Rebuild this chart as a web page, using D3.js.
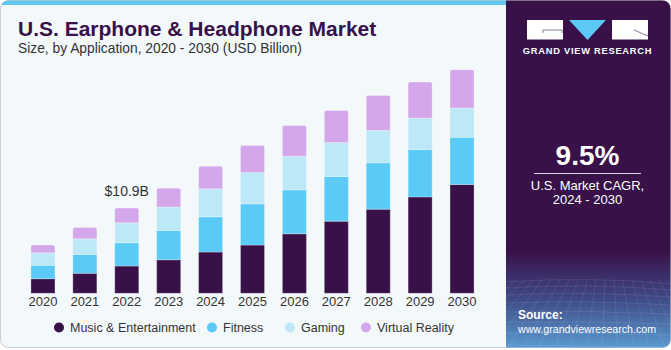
<!doctype html>
<html>

<head>
    <meta charset="utf-8">
    <title>US Earphone & Headphone Market</title>
    <style>
        body {
            margin: 0;
            background: #fff;
        }

        svg {
            display: block;
            font-family: "Liberation Sans", Arial, sans-serif;
        }

        .axis--x path,
        .axis--x line {
            display: none;
        }
    </style>
    <script src="https://cdn.jsdelivr.net/npm/d3@7"></script>
</head>

<body>
    <svg width="671" height="350"></svg>
    <script>
        // values in USD billion
        var years = ["2020", "2021", "2022", "2023", "2024", "2025", "2026", "2027", "2028", "2029", "2030"];
        var music = [1.87, 2.56, 3.50, 4.30, 5.29, 6.18, 7.63, 9.25, 10.79, 12.36, 13.95];
        var fitness = [1.72, 2.43, 2.98, 3.76, 4.52, 5.29, 5.63, 5.72, 5.93, 6.07, 6.05];
        var gaming = [1.61, 2.01, 2.56, 3.02, 3.58, 4.02, 4.31, 4.35, 4.15, 4.04, 3.75];
        var vr = [0.99, 1.45, 1.88, 2.39, 2.91, 3.46, 3.93, 4.13, 4.48, 4.61, 4.92];
        var seriesNames = ["Music & Entertainment", "Fitness", "Gaming", "Virtual Reality"];
        var seriesColors = ["#371147", "#5bcaf6", "#bde8f8", "#d4a7ea"];
        var callout = { year: "2022", label: "$10.9B" };

        var svg = d3.select("svg"),
            W = +svg.attr("width"),
            H = +svg.attr("height");

        var defs = svg.append("defs");

        var grad = defs.append("linearGradient")
            .attr("id", "panelGrad")
            .attr("x1", 0).attr("y1", 0).attr("x2", 0).attr("y2", 1);
        grad.append("stop").attr("offset", "0.72").attr("stop-color", "#371147");
        grad.append("stop").attr("offset", "0.86").attr("stop-color", "#3f4a87");
        grad.append("stop").attr("offset", "1").attr("stop-color", "#5a9ad0");

        defs.append("clipPath").attr("id", "cardClip")
            .append("rect")
            .attr("x", 0.5).attr("y", 0.5)
            .attr("width", W - 1).attr("height", 347)
            .attr("rx", 8);

        // card
        svg.append("rect")
            .attr("x", 0.5).attr("y", 0.5)
            .attr("width", W - 1).attr("height", 347)
            .attr("rx", 8)
            .attr("fill", "#f3f8fb")
            .attr("stroke", "#c9ced2");

        var clipped = svg.append("g").attr("clip-path", "url(#cardClip)");

        clipped.append("rect")
            .attr("x", 0).attr("y", 0)
            .attr("width", 506).attr("height", 5)
            .attr("fill", "#62c6ef");

        // right panel
        clipped.append("rect")
            .attr("x", 506).attr("y", 0)
            .attr("width", W - 506).attr("height", 348)
            .attr("fill", "url(#panelGrad)");

        // faint grid in the bottom of the panel
        var grid = clipped.append("g")
            .attr("stroke", "#ffffff")
            .attr("stroke-opacity", 0.13)
            .attr("stroke-width", 0.7)
            .attr("fill", "none");
        var hy = [282, 288, 295, 303, 312, 322, 333, 345];
        hy.forEach(function (y, i) {
            grid.append("path").attr("d", "M506," + y + " Q588," + (y - 6 + i) + " 671," + (y + 2));
        });
        d3.range(-10, 21).forEach(function (i) {
            var xt = 506 + i * 9;
            var xb = 506 + i * 16 - 80;
            grid.append("line")
                .attr("x1", xt).attr("y1", 280)
                .attr("x2", xb).attr("y2", 350);
        });

        // logo
        var logo = svg.append("g");
        logo.append("rect").attr("x", 527).attr("y", 20).attr("width", 36).attr("height", 19.5).attr("fill", "#fff");
        logo.append("path").attr("d", "M543,33 L543,30 L562,30 L562,33").attr("stroke", "#8a7a9a").attr("stroke-width", 1).attr("fill", "none");
        logo.append("path").attr("d", "M569,20 L606,20 L587.5,40 Z").attr("fill", "#5bc8f5");
        logo.append("rect").attr("x", 612).attr("y", 20).attr("width", 36).attr("height", 19.5).attr("fill", "#fff");
        logo.append("path").attr("d", "M634,30 L648,36").attr("stroke", "#8a7a9a").attr("stroke-width", 1);
        logo.append("text")
            .attr("x", 587.5).attr("y", 53.5)
            .attr("text-anchor", "middle")
            .attr("fill", "#fff")
            .attr("font-size", 9.3)
            .attr("font-weight", "bold")
            .attr("letter-spacing", 0.75)
            .text("GRAND VIEW RESEARCH");

        // CAGR block
        svg.append("text")
            .attr("x", 587.5).attr("y", 165)
            .attr("text-anchor", "middle")
            .attr("fill", "#fff")
            .attr("font-size", 28)
            .attr("font-weight", "bold")
            .text("9.5%");
        svg.append("line")
            .attr("x1", 534).attr("x2", 641)
            .attr("y1", 173.5).attr("y2", 173.5)
            .attr("stroke", "#d8d0de").attr("stroke-width", 1);
        svg.append("text")
            .attr("x", 587.5).attr("y", 190)
            .attr("text-anchor", "middle")
            .attr("fill", "#fff")
            .attr("font-size", 13)
            .text("U.S. Market CAGR,");
        svg.append("text")
            .attr("x", 587.5).attr("y", 204)
            .attr("text-anchor", "middle")
            .attr("fill", "#fff")
            .attr("font-size", 13)
            .text("2024 - 2030");

        svg.append("text")
            .attr("x", 518).attr("y", 319)
            .attr("fill", "#fff")
            .attr("font-size", 12)
            .attr("font-weight", "bold")
            .text("Source:");
        svg.append("text")
            .attr("x", 518).attr("y", 333)
            .attr("fill", "#fff")
            .attr("font-size", 11.5)
            .attr("textLength", 138)
            .attr("lengthAdjust", "spacingAndGlyphs")
            .text("www.grandviewresearch.com");

        // titles
        svg.append("text")
            .attr("x", 18).attr("y", 36)
            .attr("fill", "#371147")
            .attr("font-size", 21)
            .attr("font-weight", "bold")
            .text("U.S. Earphone & Headphone Market");
        svg.append("text")
            .attr("x", 18).attr("y", 53)
            .attr("fill", "#333")
            .attr("font-size", 13.8)
            .text("Size, by Application, 2020 - 2030 (USD Billion)");

        // chart
        var x = d3.scaleBand().domain(years).range([22, 483]).paddingInner(0.427).paddingOuter(0.2135),
            y = d3.scaleLinear().domain([0, 30]).range([293.3, 59.3]);

        var table = years.map(function (yr, i) {
            return { year: yr, music: music[i], fitness: fitness[i], gaming: gaming[i], vr: vr[i] };
        });
        var keys = ["music", "fitness", "gaming", "vr"];
        var stacked = d3.stack().keys(keys)(table);

        var g = svg.append("g");

        stacked.forEach(function (layer, li) {
            var isTop = li === keys.length - 1;
            g.append("g")
                .attr("fill", seriesColors[li])
                .selectAll("path")
                .data(layer)
                .enter().append("path")
                .attr("stroke", "#ffffff")
                .attr("stroke-opacity", 0.45)
                .attr("stroke-width", 0.6)
                .attr("d", function (d) {
                    var x0 = x(d.data.year),
                        x1 = x0 + x.bandwidth(),
                        y0 = y(d[0]),
                        y1 = y(d[1]),
                        r = isTop ? 2 : 0;
                    return "M" + x0 + "," + y0 +
                        "L" + x0 + "," + (y1 + r) +
                        "Q" + x0 + "," + y1 + " " + (x0 + r) + "," + y1 +
                        "L" + (x1 - r) + "," + y1 +
                        "Q" + x1 + "," + y1 + " " + x1 + "," + (y1 + r) +
                        "L" + x1 + "," + y0 + "Z";
                });
        });

        var ci = years.indexOf(callout.year);
        g.append("text")
            .attr("x", x(callout.year) + x.bandwidth() / 2)
            .attr("y", y(music[ci] + fitness[ci] + gaming[ci] + vr[ci]) - 12)
            .attr("text-anchor", "middle")
            .attr("fill", "#333")
            .attr("font-size", 14)
            .text(callout.label);

        g.append("g")
            .attr("class", "axis axis--x")
            .attr("transform", "translate(0,293)")
            .call(d3.axisBottom(x).tickSize(0).tickPadding(4))
            .call(function (a) {
                a.selectAll("text")
                    .attr("font-size", 13)
                    .attr("font-family", "'Liberation Sans', Arial, sans-serif")
                    .attr("fill", "#333");
            });

        // legend
        var legendX = [59, 212, 290, 366];
        var legend = svg.append("g")
            .selectAll("g")
            .data(seriesNames)
            .enter().append("g")
            .attr("transform", function (d, i) {
                return "translate(" + legendX[i] + ",327.5)";
            });
        legend.append("circle")
            .attr("r", 5)
            .attr("fill", function (d, i) { return seriesColors[i]; });
        legend.append("text")
            .attr("x", 11)
            .attr("dy", "0.35em")
            .attr("font-size", 12.5)
            .attr("fill", "#333")
            .text(function (d) { return d; });
    </script>
</body>

</html>
